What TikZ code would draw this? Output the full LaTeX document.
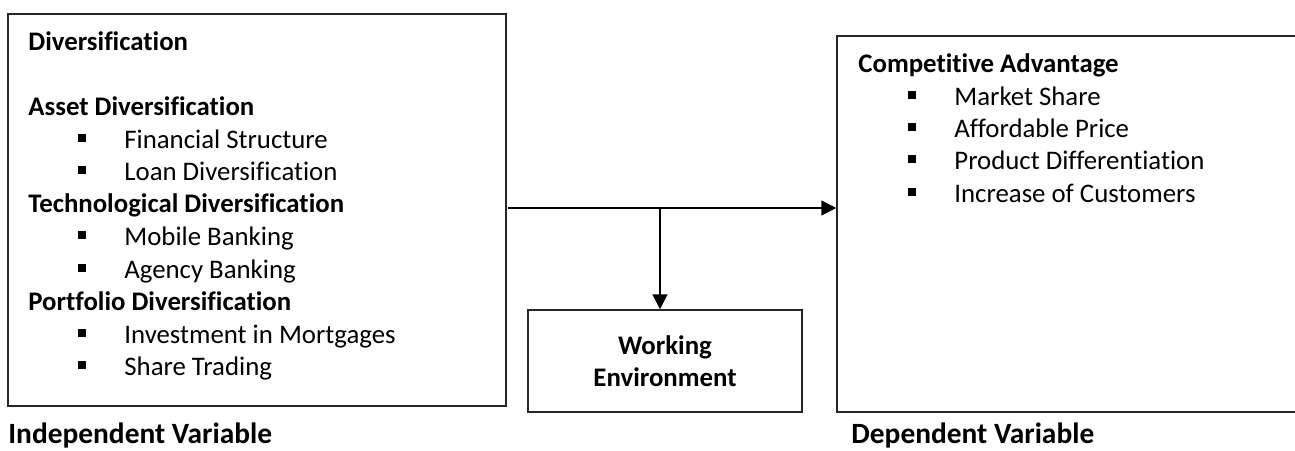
\documentclass[tikz,border=0pt]{standalone}
\usepackage{fontspec}
\setmainfont[Ligatures=CommonOff]{Carlito}
\usetikzlibrary{arrows.meta}
\newcommand{\bul}{\makebox[23pt][l]{\rule[3pt]{3.8pt}{3.8pt}}}
\begin{document}
\begin{tikzpicture}[x=0.5pt,y=-0.5pt,
  box/.style={draw=black!85, line width=0.75pt, rectangle, inner sep=0pt},
  txt/.style={anchor=base west, inner sep=0pt, font=\fontsize{13.4}{16}\selectfont},
  head/.style={txt, font=\fontsize{13.4}{16}\selectfont\bfseries},
  big/.style={anchor=base west, inner sep=0pt, font=\fontsize{14.7}{17}\selectfont\bfseries},
  arr/.style={draw=black, line width=0.75pt, -{Triangle[length=7.5pt,width=7.5pt]}}]
\useasboundingbox (0,0) rectangle (1295,450);
\begin{scope}
\clip (0,0) rectangle (1295,450);
\node[box, minimum width=249pt, minimum height=196pt] (L) at (257,210) {};
\node[box, minimum width=240pt, minimum height=188pt] (R) at (1077,224) {};
\node[box, minimum width=137pt, minimum height=51pt, align=center,
  font=\fontsize{13.4}{16}\selectfont\bfseries] (W) at (665,361) {Working\\Environment};
\end{scope}
% left box texts
\node[head] (d0) at (28,50) {Diversification};
\node[head] (d1) at (28,115) {Asset Diversification};
\node[txt] (d2) at (78,148) {\bul Financial Structure};
\node[txt] (d3) at (78,180) {\bul Loan Diversification};
\node[head] (d4) at (28,212) {Technological Diversification};
\node[txt] (d5) at (78,245) {\bul Mobile Banking};
\node[txt] (d6) at (78,278) {\bul Agency Banking};
\node[head] (d7) at (28,310) {Portfolio Diversification};
\node[txt] (d8) at (78,343) {\bul Investment in Mortgages};
\node[txt] (d9) at (78,375) {\bul Share Trading};
% right box texts
\node[head] (c0) at (858,72) {Competitive Advantage};
\node[txt] (c1) at (908,105) {\bul Market Share};
\node[txt] (c2) at (908,137) {\bul Affordable Price};
\node[txt] (c3) at (908,169) {\bul Product Differentiation};
\node[txt] (c4) at (908,202) {\bul Increase of Customers};
% captions
\node[big] (iv) at (8,443) {Independent Variable};
\node[big] (dv) at (851,443) {Dependent Variable};
% connectors
\coordinate (s) at (508,208);
\coordinate (m) at (660,208);
\draw[arr] (s) -- (s -| R.west);
\draw[arr] (m) -- (m |- W.north);
\end{tikzpicture}
\end{document}
